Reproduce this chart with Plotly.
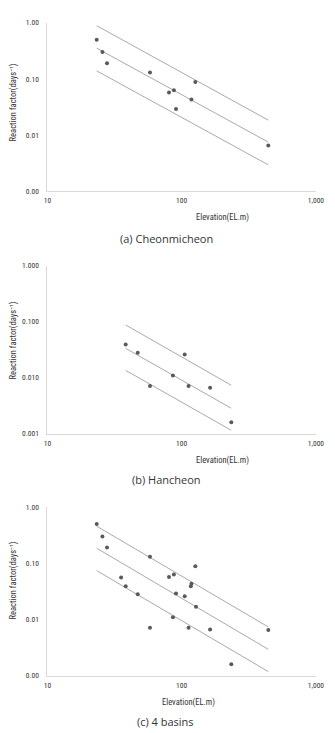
import plotly.graph_objects as go

# ---------------- data ----------------
# (a) Cheonmicheon
a_elev = [23.3, 25.7, 27.8, 58.1, 126.4, 80.5, 87.5, 90.8, 118.3, 441.9]
a_k = [0.50, 0.30, 0.19, 0.13, 0.088, 0.057, 0.063, 0.029, 0.043, 0.0065]
a_line_x = [23.3, 442]
a_upper = [0.886, 0.0184]
a_mid = [0.353, 0.00747]
a_lower = [0.139, 0.00294]

# (b) Hancheon
b_elev = [38.3, 47.1, 58.1, 86.1, 105.4, 112.6, 162.9, 234.3]
b_k = [0.039, 0.028, 0.0071, 0.011, 0.026, 0.0071, 0.0066, 0.0016]
b_line_x = [38.3, 234]
b_upper = [0.0874, 0.00734]
b_mid = [0.0334, 0.00285]
b_lower = [0.0135, 0.00115]

# (c) 4 basins (other basins' points added)
extra_elev = [35.4, 117.0, 127.9]
extra_k = [0.0556, 0.039, 0.0168]
c_elev = a_elev + b_elev + extra_elev
c_k = a_k + b_k + extra_k
c_line_x = [23.3, 442]
c_upper = [0.456, 0.00735]
c_mid = [0.185, 0.00294]
c_lower = [0.0738, 0.00118]

x_tickvals = [10, 100, 1000]
x_ticktext = ["10", "100", "1,000"]
y_tickvals = [1, 0.1, 0.01, 0.001]
y_ticktext_2 = ["1.00", "0.10", "0.01", "0.00"]
y_ticktext_3 = ["1.000", "0.100", "0.010", "0.001"]

captions = ["(a) Cheonmicheon", "(b) Hancheon", "(c) 4 basins"]
x_title = "Elevation(EL.m)"
y_title = "Reaction factor(days\u207b\u00b9)"

# ---------------- figure ----------------
W, H = 335, 733
NARROW = "Liberation Sans Narrow, Roboto Condensed, Liberation Sans, Arial"
TICKFONT = dict(family=NARROW, size=7.5, color="#333333")
TITLEFONT = dict(family=NARROW, size=8.5, color="#333333")
CAPFONT = dict(family="Open Sans, Noto Sans, Arial", size=11, color="#333333")

fig = go.Figure()

panels = [
    (a_elev, a_k, a_line_x, a_upper, a_mid, a_lower, y_ticktext_2),
    (b_elev, b_k, b_line_x, b_upper, b_mid, b_lower, y_ticktext_3),
    (c_elev, c_k, c_line_x, c_upper, c_mid, c_lower, y_ticktext_2),
]

def px_x(p):
    return p / W

def px_y(p):
    return 1 - p / H

# pixel positions of plot areas (top, bottom)
plot_rows = [(19, 189.5), (265, 435), (509.3, 680)]
x_left, x_right = 45, 323.5

for i, (ex, ky, lx, up, md, lo, ytt) in enumerate(panels):
    n = "" if i == 0 else str(i + 1)
    xa, ya = "x" + n, "y" + n
    for ys in (up, md, lo):
        fig.add_trace(go.Scatter(x=lx, y=ys, mode="lines", xaxis=xa, yaxis=ya,
                                 line=dict(color="#a9a9a9", width=1), showlegend=False,
                                 hoverinfo="skip"))
    fig.add_trace(go.Scatter(x=ex, y=ky, mode="markers", xaxis=xa, yaxis=ya,
                             marker=dict(symbol="circle", size=4, color="#5a5a5a"),
                             showlegend=False))
    top, bot = plot_rows[i]
    fig.layout["xaxis" + n] = dict(
        type="log", range=[1, 3], domain=[px_x(x_left), px_x(x_right)],
        anchor=ya, showline=True, linecolor="#d9d9d9", linewidth=1,
        showgrid=False, zeroline=False, tickvals=x_tickvals, ticktext=x_ticktext,
        ticks="outside", ticklen=2, tickcolor="rgba(0,0,0,0)", tickfont=TICKFONT,
    )
    fig.layout["yaxis" + n] = dict(
        type="log", range=[-3, 0], domain=[px_y(bot), px_y(top)],
        anchor=xa, showline=True, linecolor="#d9d9d9", linewidth=1,
        showgrid=False, zeroline=False, tickvals=y_tickvals, ticktext=ytt,
        ticks="outside", ticklen=6, tickcolor="rgba(0,0,0,0)", tickfont=TICKFONT,
    )

annots = []
xt_pos = [(227, 216), (226.5, 461.7), (191.5, 706.7)]
yt_pos = [(10, 100), (10, 341), (10, 584)]
cap_pos = [(169, 237.7), (169, 481), (167, 726.7)]
for i in range(3):
    annots.append(dict(text=x_title, x=px_x(xt_pos[i][0]), y=px_y(xt_pos[i][1]),
                       xref="paper", yref="paper", showarrow=False, font=TITLEFONT,
                       xanchor="center", yanchor="middle"))
    annots.append(dict(text=y_title, x=px_x(yt_pos[i][0]), y=px_y(yt_pos[i][1]),
                       xref="paper", yref="paper", showarrow=False, font=TITLEFONT,
                       textangle=-90, xanchor="center", yanchor="middle"))
    annots.append(dict(text=captions[i], x=px_x(cap_pos[i][0]), y=px_y(cap_pos[i][1]),
                       xref="paper", yref="paper", showarrow=False, font=CAPFONT,
                       xanchor="center", yanchor="middle"))

fig.update_layout(
    width=W, height=H, margin=dict(l=0, r=0, t=0, b=0),
    paper_bgcolor="white", plot_bgcolor="white",
    annotations=annots, showlegend=False,
)

fig.write_html("out.html")
